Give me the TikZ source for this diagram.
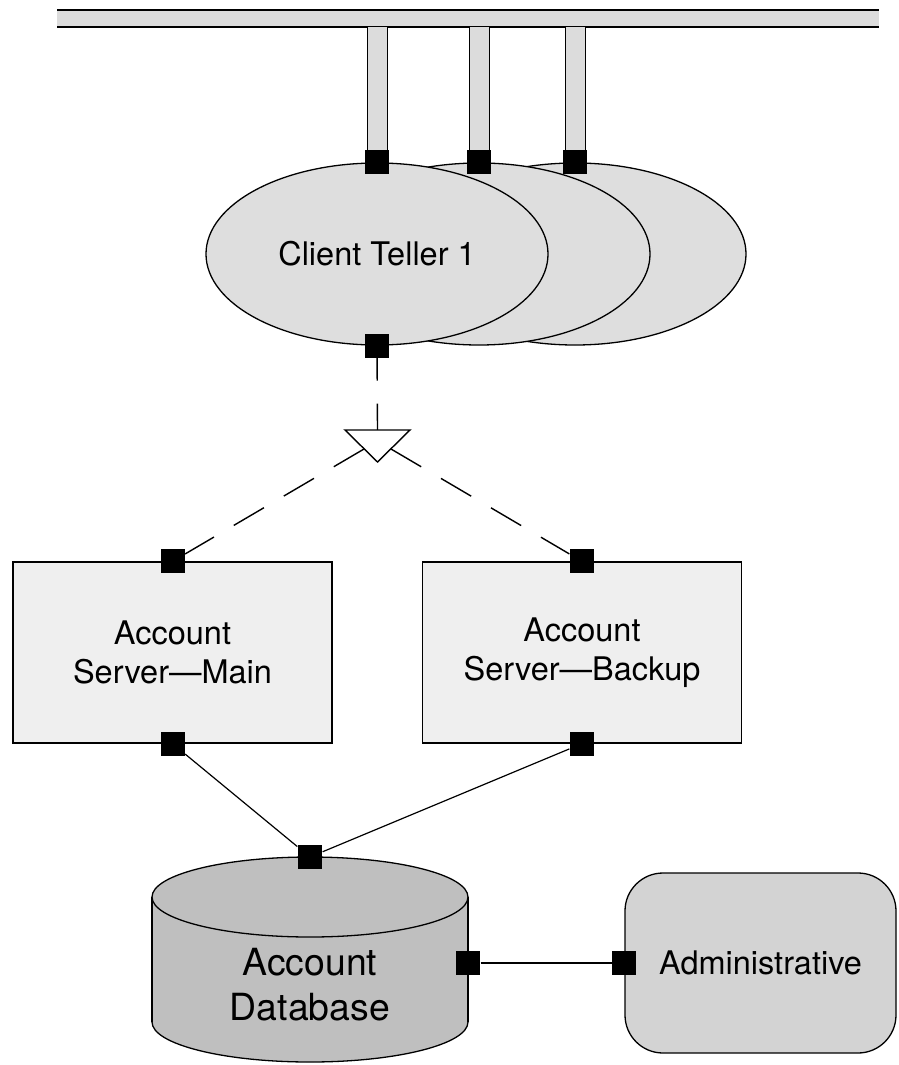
\documentclass[tikz,border=0pt]{standalone}
\usepackage{fontspec}
\setmainfont{TeX Gyre Heros}
\usetikzlibrary{positioning, shapes.geometric, calc}

\definecolor{busgray}{HTML}{DCDCDC}
\definecolor{tellergray}{HTML}{DEDEDE}
\definecolor{servergray}{HTML}{EFEFEF}
\definecolor{dbgray}{HTML}{BFBFBF}
\definecolor{admingray}{HTML}{D3D3D3}

\begin{document}
\begin{tikzpicture}[
            x=1pt, y=-1pt,
            line width=1.3pt,
            every node/.style={align=center},
            teller/.style={ellipse, draw, fill=tellergray, minimum width=342pt, minimum height=182pt, inner sep=0pt, font=\fontsize{32.5}{39}\selectfont},
            server/.style={rectangle, draw, fill=servergray, minimum width=319pt, minimum height=181pt, font=\fontsize{32.5}{39}\selectfont},
            adminbox/.style={rectangle, draw, fill=admingray, rounded corners=38pt, minimum width=271pt, minimum height=180pt, font=\fontsize{32.5}{39}\selectfont},
            port/.style={rectangle, fill=black, minimum size=24pt, inner sep=0pt},
            link/.style={draw, line width=1.2pt},
            dashlink/.style={draw, line width=1.4pt, dash pattern=on 35pt off 23pt}
        ]
        \useasboundingbox (0,0) rectangle (898,1065);

        % network bus
        \fill[busgray] (57,10) rectangle (879,27);
        \draw[line width=1.6pt] (57,10) -- (879,10);
        \draw (57,27) -- (879,27);

        % client tellers (back ones first)
        \node[teller] (teller3) at (575,254) {};
        \node[teller] (teller2) at (479,254) {};
        \node[teller] (teller1) at (377,254) {Client Teller 1};

        % drops from the bus
        \foreach \t in {1,2,3} {
            \path (teller\t.north) ++(-10,0) coordinate (pl) (teller\t.north) ++(10,0) coordinate (pr);
            \fill[busgray] (pl) rectangle (pr |- 0,27);
            \draw[line width=1pt] (pl) -- (pl |- 0,27) (pr) -- (pr |- 0,27);
            \node[port] (tport\t) at (teller\t.north) {};
        }
        \node[port] (clientout) at (teller1.south) {};

        % servers
        \node[server] (main) at (172.5,652.5) {Account\\Server—Main};
        \node[server] (backup) at (582,652.5) {Account\\Server—Backup};

        % splitter
        \coordinate (splitin) at (377.5,430);
        \coordinate (splitl) at (364,449);
        \coordinate (splitr) at (391,449);

        \node[port] (maintop) at (main.north) {};
        \node[port] (mainbot) at (main.south) {};
        \node[port] (backuptop) at (backup.north) {};
        \node[port] (backupbot) at (backup.south) {};

        \draw[dashlink] (clientout.center) -- (splitin);
        \draw[dashlink] (splitl) -- (maintop);
        \draw[dashlink] (splitr) -- (backuptop);
        \draw[fill=white, line width=1.4pt] (345,430) -- (410,430) -- (377.5,462) -- cycle;

        % database
        \filldraw[fill=dbgray] (310,1022) ellipse[x radius=158, y radius=40];
        \fill[dbgray] (152,897) rectangle (468,1022);
        \draw (152,897) -- (152,1022) (468,897) -- (468,1022);
        \filldraw[fill=dbgray] (310,897) ellipse[x radius=158, y radius=40];
        \node[font=\fontsize{37.4}{45}\selectfont] (db) at (310,985) {Account\\Database};
        \node[port] (dbtop) at (310,857) {};
        \node[port] (dbright) at (468,963) {};

        % admin
        \node[adminbox] (admin) at (760.5,963) {Administrative};
        \node[port] (adminleft) at (admin.west) {};

        \draw[link] (mainbot) -- (dbtop);
        \draw[link] (backupbot) -- (dbtop);
        \draw[link] (dbright) -- (adminleft);

    \end{tikzpicture}
\end{document}
